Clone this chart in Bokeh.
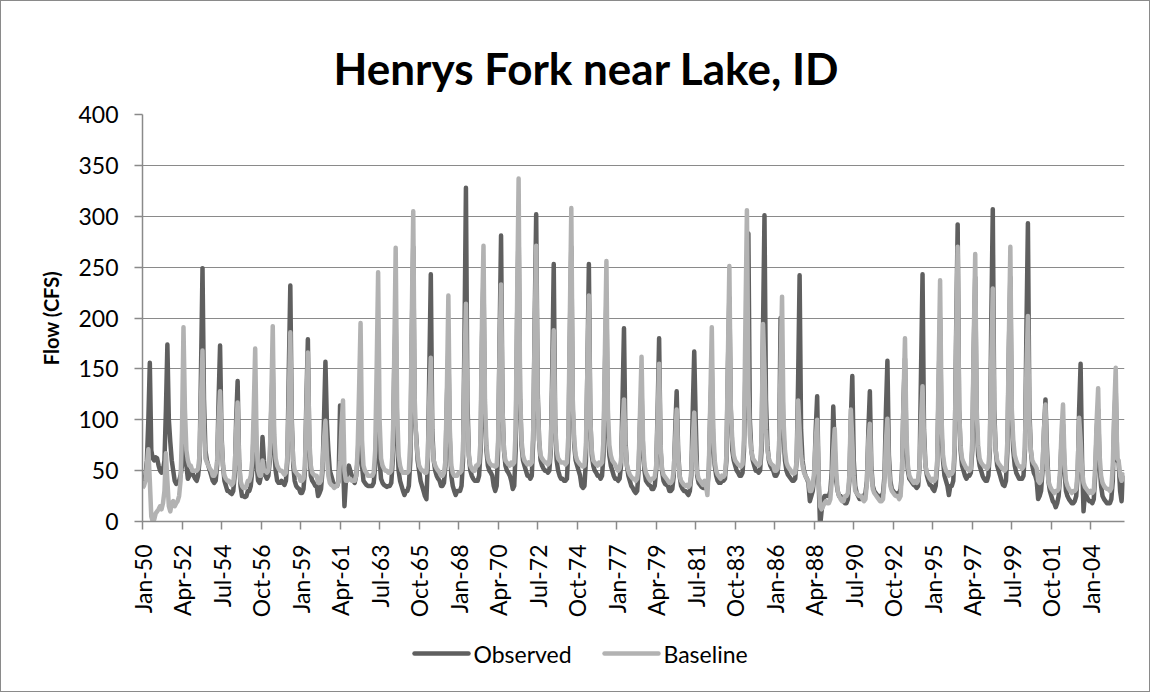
import math
from bokeh.plotting import figure
from bokeh.layouts import column
from bokeh.models import FixedTicker, Range1d
from bokeh.core.properties import value
from bokeh.embed import file_html
from bokeh.resources import INLINE

# Monthly flow (CFS), Jan-1950 .. Dec-2005, one row per year (Jan..Dec)
observed = [
    40, 42, 45, 60, 100, 156, 70, 62, 60, 63, 62, 55,      # 1950
    50, 48, 50, 60, 110, 174, 100, 78, 60, 50, 40, 37,     # 1951
    38, 40, 45, 55, 86, 80, 55, 42, 45, 50, 48, 45,        # 1952
    42, 40, 45, 60, 150, 249, 120, 70, 60, 55, 50, 45,     # 1953
    40, 38, 40, 55, 120, 173, 85, 55, 40, 35, 30, 30,      # 1954
    28, 27, 30, 45, 100, 138, 60, 35, 25, 25, 24, 25,      # 1955
    30, 30, 35, 50, 90, 120, 55, 40, 38, 45, 83, 60,       # 1956
    45, 42, 45, 60, 110, 150, 70, 50, 40, 38, 38, 40,      # 1957
    38, 36, 40, 60, 150, 232, 100, 55, 40, 35, 33, 32,     # 1958
    28, 28, 32, 50, 120, 179, 75, 45, 40, 38, 35, 35,      # 1959
    25, 28, 32, 50, 100, 157, 97, 70, 50, 45, 40, 35,      # 1960
    35, 35, 40, 114, 70, 60, 15, 40, 50, 55, 50, 45,       # 1961
    40, 38, 45, 60, 97, 90, 55, 40, 38, 36, 35, 35,        # 1962
    35, 35, 38, 55, 100, 110, 60, 42, 38, 36, 35, 34,      # 1963
    35, 35, 38, 60, 150, 200, 83, 50, 40, 35, 30, 26,      # 1964
    30, 30, 35, 60, 180, 270, 100, 85, 60, 50, 40, 35,     # 1965
    30, 25, 22, 60, 150, 243, 90, 60, 50, 45, 42, 40,      # 1966
    35, 35, 38, 55, 120, 170, 80, 45, 35, 30, 26, 30,      # 1967
    30, 30, 35, 60, 180, 328, 120, 65, 50, 45, 42, 40,     # 1968
    40, 40, 45, 70, 180, 240, 100, 70, 55, 50, 48, 45,     # 1969
    35, 30, 35, 70, 180, 281, 110, 70, 55, 50, 48, 45,     # 1970
    40, 32, 35, 70, 200, 290, 120, 75, 60, 55, 50, 45,     # 1971
    45, 42, 45, 80, 200, 302, 130, 80, 60, 55, 52, 50,     # 1972
    50, 48, 50, 70, 150, 253, 95, 60, 50, 45, 42, 42,      # 1973
    40, 40, 42, 70, 180, 270, 110, 75, 60, 55, 50, 45,     # 1974
    35, 33, 35, 60, 150, 253, 100, 65, 55, 50, 48, 45,     # 1975
    45, 42, 45, 65, 150, 220, 90, 65, 55, 50, 45, 42,      # 1976
    42, 40, 42, 55, 120, 190, 80, 55, 45, 40, 35, 33,      # 1977
    30, 28, 30, 50, 100, 130, 70, 50, 40, 38, 36, 35,      # 1978
    32, 32, 35, 50, 110, 180, 70, 50, 40, 37, 36, 35,      # 1979
    30, 30, 32, 45, 90, 128, 70, 45, 35, 32, 30, 30,       # 1980
    28, 26, 30, 45, 110, 167, 100, 45, 38, 36, 34, 33,     # 1981
    33, 33, 35, 50, 110, 150, 75, 55, 45, 40, 38, 38,      # 1982
    40, 40, 42, 60, 150, 220, 110, 70, 60, 55, 50, 48,     # 1983
    45, 45, 48, 70, 150, 200, 283, 100, 70, 60, 55, 50,    # 1984
    50, 48, 50, 70, 190, 301, 120, 75, 60, 55, 52, 50,     # 1985
    45, 45, 48, 70, 200, 150, 85, 60, 50, 46, 44, 42,      # 1986
    40, 40, 42, 60, 140, 242, 90, 60, 50, 45, 42, 38,      # 1987
    20, 25, 30, 45, 90, 123, 40, -5, 10, 20, 25, 25,       # 1988
    25, 25, 30, 50, 113, 70, 40, 30, 25, 25, 22, 20,       # 1989
    18, 18, 22, 40, 100, 143, 60, 35, 28, 25, 22, 22,      # 1990
    25, 25, 28, 40, 90, 128, 55, 35, 30, 28, 26, 25,       # 1991
    25, 25, 28, 45, 110, 158, 65, 40, 32, 30, 28, 27,      # 1992
    28, 28, 32, 50, 120, 160, 70, 50, 42, 40, 38, 36,      # 1993
    35, 33, 35, 55, 150, 243, 90, 55, 45, 40, 36, 35,      # 1994
    32, 30, 35, 55, 130, 200, 85, 60, 45, 40, 35, 26,      # 1995
    35, 35, 40, 70, 190, 292, 110, 70, 55, 50, 45, 42,     # 1996
    45, 45, 48, 70, 170, 240, 100, 65, 55, 50, 45, 42,     # 1997
    40, 40, 45, 70, 200, 307, 110, 70, 55, 50, 45, 40,     # 1998
    36, 35, 40, 70, 170, 240, 100, 70, 55, 48, 45, 42,     # 1999
    42, 42, 45, 70, 190, 293, 110, 70, 55, 48, 45, 40,     # 2000
    22, 25, 30, 50, 90, 120, 73, 40, 30, 25, 20, 18,       # 2001
    14, 18, 25, 45, 80, 95, 50, 30, 25, 22, 20, 18,        # 2002
    18, 20, 25, 45, 110, 155, 60, 10, 28, 25, 22, 20,      # 2003
    20, 18, 22, 45, 90, 110, 55, 35, 25, 22, 20, 18,       # 2004
    18, 18, 22, 40, 100, 130, 60, 58, 30, 20, 40, 45,      # 2005
]

baseline = [
    33, 35, 40, 55, 71, 40, 5, 0, 2, 8, 10, 12,            # 1950
    15, 12, 18, 30, 67, 40, 15, 10, 18, 20, 15, 18,        # 1951
    20, 25, 40, 90, 191, 110, 70, 60, 55, 55, 50, 50,      # 1952
    50, 50, 52, 65, 120, 168, 90, 62, 58, 55, 52, 50,      # 1953
    45, 45, 48, 60, 100, 128, 80, 55, 45, 42, 40, 40,      # 1954
    38, 36, 38, 50, 90, 117, 60, 40, 35, 33, 33, 35,       # 1955
    40, 40, 45, 60, 110, 170, 75, 50, 45, 45, 60, 50,      # 1956
    50, 48, 50, 65, 120, 192, 85, 62, 55, 52, 50, 50,      # 1957
    48, 46, 48, 65, 120, 186, 90, 60, 50, 48, 46, 45,      # 1958
    40, 40, 42, 55, 110, 166, 80, 55, 48, 46, 45, 45,      # 1959
    38, 38, 40, 55, 80, 99, 65, 45, 38, 36, 35, 33,        # 1960
    35, 35, 40, 60, 95, 119, 50, 40, 40, 42, 42, 40,       # 1961
    40, 40, 45, 70, 130, 195, 80, 55, 50, 48, 45, 45,      # 1962
    45, 45, 48, 70, 150, 245, 100, 62, 55, 52, 50, 50,     # 1963
    48, 48, 50, 70, 160, 269, 110, 65, 55, 50, 48, 48,     # 1964
    48, 48, 50, 80, 200, 305, 120, 80, 65, 55, 52, 50,     # 1965
    50, 48, 48, 65, 120, 161, 80, 60, 55, 52, 50, 48,      # 1966
    45, 45, 48, 60, 130, 222, 90, 55, 48, 45, 45, 45,      # 1967
    48, 48, 50, 70, 150, 214, 100, 65, 55, 52, 50, 50,     # 1968
    55, 55, 58, 80, 200, 271, 120, 75, 62, 58, 56, 55,     # 1969
    55, 54, 55, 80, 170, 233, 110, 70, 60, 58, 56, 55,     # 1970
    58, 56, 58, 90, 220, 337, 130, 80, 65, 60, 58, 56,     # 1971
    58, 56, 58, 90, 190, 271, 120, 80, 65, 62, 60, 58,     # 1972
    58, 56, 58, 75, 130, 188, 95, 70, 62, 60, 58, 58,      # 1973
    58, 56, 58, 85, 200, 308, 120, 80, 65, 60, 58, 56,     # 1974
    55, 54, 55, 75, 150, 222, 100, 70, 60, 58, 56, 55,     # 1975
    58, 56, 58, 80, 170, 256, 110, 75, 65, 60, 58, 56,     # 1976
    52, 50, 52, 60, 95, 120, 75, 55, 50, 46, 44, 42,       # 1977
    42, 40, 42, 55, 110, 162, 80, 55, 48, 45, 42, 40,      # 1978
    42, 42, 44, 55, 100, 155, 75, 52, 46, 44, 42, 40,      # 1979
    38, 38, 40, 50, 80, 110, 65, 45, 40, 38, 36, 35,       # 1980
    36, 34, 36, 50, 80, 107, 65, 48, 42, 40, 38, 36,       # 1981
    40, 35, 26, 55, 120, 191, 90, 60, 50, 46, 44, 42,      # 1982
    45, 44, 46, 65, 160, 251, 110, 80, 65, 60, 58, 56,     # 1983
    55, 54, 56, 80, 200, 306, 130, 85, 70, 62, 60, 58,     # 1984
    56, 55, 57, 80, 194, 150, 90, 70, 62, 58, 56, 55,      # 1985
    50, 50, 52, 75, 150, 221, 100, 70, 58, 54, 52, 50,     # 1986
    48, 47, 48, 60, 119, 90, 65, 55, 48, 45, 42, 40,       # 1987
    30, 30, 35, 50, 80, 100, 40, 15, 12, 15, 18, 20,       # 1988
    18, 18, 22, 40, 70, 91, 50, 30, 25, 22, 20, 20,        # 1989
    25, 25, 28, 45, 110, 80, 45, 30, 28, 26, 25, 25,       # 1990
    22, 20, 22, 38, 80, 96, 50, 32, 28, 26, 24, 22,        # 1991
    20, 20, 22, 40, 80, 101, 55, 35, 30, 28, 26, 25,       # 1992
    25, 22, 25, 50, 120, 180, 85, 55, 45, 42, 40, 38,      # 1993
    40, 38, 40, 55, 100, 133, 80, 55, 48, 45, 42, 40,      # 1994
    42, 40, 42, 60, 150, 237, 100, 65, 55, 50, 48, 45,     # 1995
    48, 47, 50, 75, 180, 270, 110, 75, 62, 58, 55, 52,     # 1996
    52, 50, 52, 80, 180, 263, 110, 75, 62, 58, 56, 54,     # 1997
    54, 52, 54, 75, 160, 229, 100, 70, 60, 57, 55, 53,     # 1998
    52, 50, 52, 80, 180, 270, 110, 80, 65, 60, 56, 54,     # 1999
    54, 52, 54, 75, 150, 202, 100, 70, 60, 57, 55, 52,     # 2000
    40, 38, 40, 55, 90, 115, 60, 40, 35, 32, 30, 28,       # 2001
    30, 30, 32, 50, 90, 115, 60, 40, 35, 32, 30, 28,       # 2002
    30, 30, 32, 50, 102, 80, 50, 38, 34, 32, 30, 28,       # 2003
    30, 28, 30, 55, 100, 131, 65, 45, 38, 35, 33, 32,      # 2004
    32, 30, 33, 55, 110, 151, 62, 60, 45, 40, 45, 48,      # 2005
]

tick_labels = ["Jan-50", "Apr-52", "Jul-54", "Oct-56", "Jan-59", "Apr-61",
               "Jul-63", "Oct-65", "Jan-68", "Apr-70", "Jul-72", "Oct-74",
               "Jan-77", "Apr-79", "Jul-81", "Oct-83", "Jan-86", "Apr-88",
               "Jul-90", "Oct-92", "Jan-95", "Apr-97", "Jul-99", "Oct-01",
               "Jan-04"]
tick_step = 27
y_ticks = [0, 50, 100, 150, 200, 250, 300, 350, 400]
series_names = ["Observed", "Baseline"]
chart_title = "Henrys Fork near Lake, ID"

months = list(range(len(observed)))
tick_pos = [i * tick_step for i in range(len(tick_labels))]

FONT = "Lato"
GRID = "#8a8a8a"
DARK = "#5f5f5f"
LIGHT = "#b2b2b2"
LW = 4.5
W = 1148
FRAME_L, FRAME_R = 141, 1123
TH = 100          # title strip height
PH = 530          # main plot height
LH = 60           # legend strip height


def strip(height):
    """A blank figure whose frame is aligned with the main frame; x and y in page pixels."""
    f = figure(width=W, height=height, output_backend="svg", toolbar_location=None,
               x_range=Range1d(FRAME_L, FRAME_R), y_range=Range1d(height, 0),
               x_axis_type=None, y_axis_type=None, title=None, min_border=0,
               min_border_left=FRAME_L, min_border_right=W - FRAME_R,
               min_border_top=0, min_border_bottom=0)
    f.outline_line_color = None
    f.xgrid.visible = False
    f.ygrid.visible = False
    return f


# title strip
top = strip(TH)
top.text([332], [66], text=[chart_title], text_font=value(FONT),
         text_font_size="44px", text_font_style="bold", text_color="black",
         text_baseline="alphabetic", text_align="left")

# main chart
p = figure(width=W, height=PH, output_backend="svg", toolbar_location=None,
           x_range=Range1d(0, len(observed) - 1), y_range=Range1d(0, 400),
           min_border_left=FRAME_L, min_border_right=W - FRAME_R,
           min_border_top=113 - TH, min_border_bottom=PH - (520 - TH), title=None)
p.outline_line_color = None
p.background_fill_color = "white"
p.border_fill_color = "white"

p.line(months, observed, line_color=DARK, line_width=LW, line_join="round")
p.line(months, baseline, line_color=LIGHT, line_width=LW, line_join="round")

p.xgrid.visible = False
p.ygrid.grid_line_color = GRID
p.ygrid.grid_line_width = 1.2
p.ygrid.ticker = FixedTicker(ticks=y_ticks)

p.yaxis.ticker = FixedTicker(ticks=y_ticks)
p.yaxis.axis_label = "Flow (CFS)"
p.yaxis.axis_label_text_font = FONT
p.yaxis.axis_label_text_font_size = "20px"
p.yaxis.axis_label_text_font_style = "bold"
p.yaxis.axis_label_text_color = "black"
p.yaxis.axis_label_standoff = 12
p.yaxis.major_label_text_font = FONT
p.yaxis.major_label_text_font_size = "23px"
p.yaxis.major_label_text_color = "black"
p.yaxis.major_label_standoff = 16
p.yaxis.axis_line_color = GRID
p.yaxis.axis_line_width = 1.5
p.yaxis.major_tick_line_color = GRID
p.yaxis.major_tick_line_width = 1.5
p.yaxis.major_tick_in = 0
p.yaxis.major_tick_out = 8
p.yaxis.minor_tick_line_color = None

p.xaxis.ticker = FixedTicker(ticks=tick_pos)
p.xaxis.major_label_overrides = {pos: lab for pos, lab in zip(tick_pos, tick_labels)}
p.xaxis.major_label_orientation = math.pi / 2
p.xaxis.major_label_text_font = FONT
p.xaxis.major_label_text_font_size = "23px"
p.xaxis.major_label_text_color = "black"
p.xaxis.major_label_standoff = 15
p.xaxis.axis_line_color = GRID
p.xaxis.axis_line_width = 1.5
p.xaxis.major_tick_line_color = GRID
p.xaxis.major_tick_line_width = 1.5
p.xaxis.major_tick_in = 0
p.xaxis.major_tick_out = 8
p.xaxis.minor_tick_line_color = None

# legend strip
leg = strip(LH)
LEG_Y = 22
LEG_KEYS = [(413, 467, DARK), (603, 657, LIGHT)]
for (x0, x1, col), name in zip(LEG_KEYS, series_names):
    leg.line([x0, x1], [LEG_Y, LEG_Y], line_color=col, line_width=LW, line_cap="round")
    leg.text([x1 + 5], [LEG_Y], text=[name], text_font=value(FONT),
             text_font_size="23px", text_color="black",
             text_baseline="middle", text_align="left")

layout = column(top, p, leg, spacing=0, styles={"border": "1px solid #8a8a8a"})

open("out.html", "w").write(file_html(layout, INLINE))
